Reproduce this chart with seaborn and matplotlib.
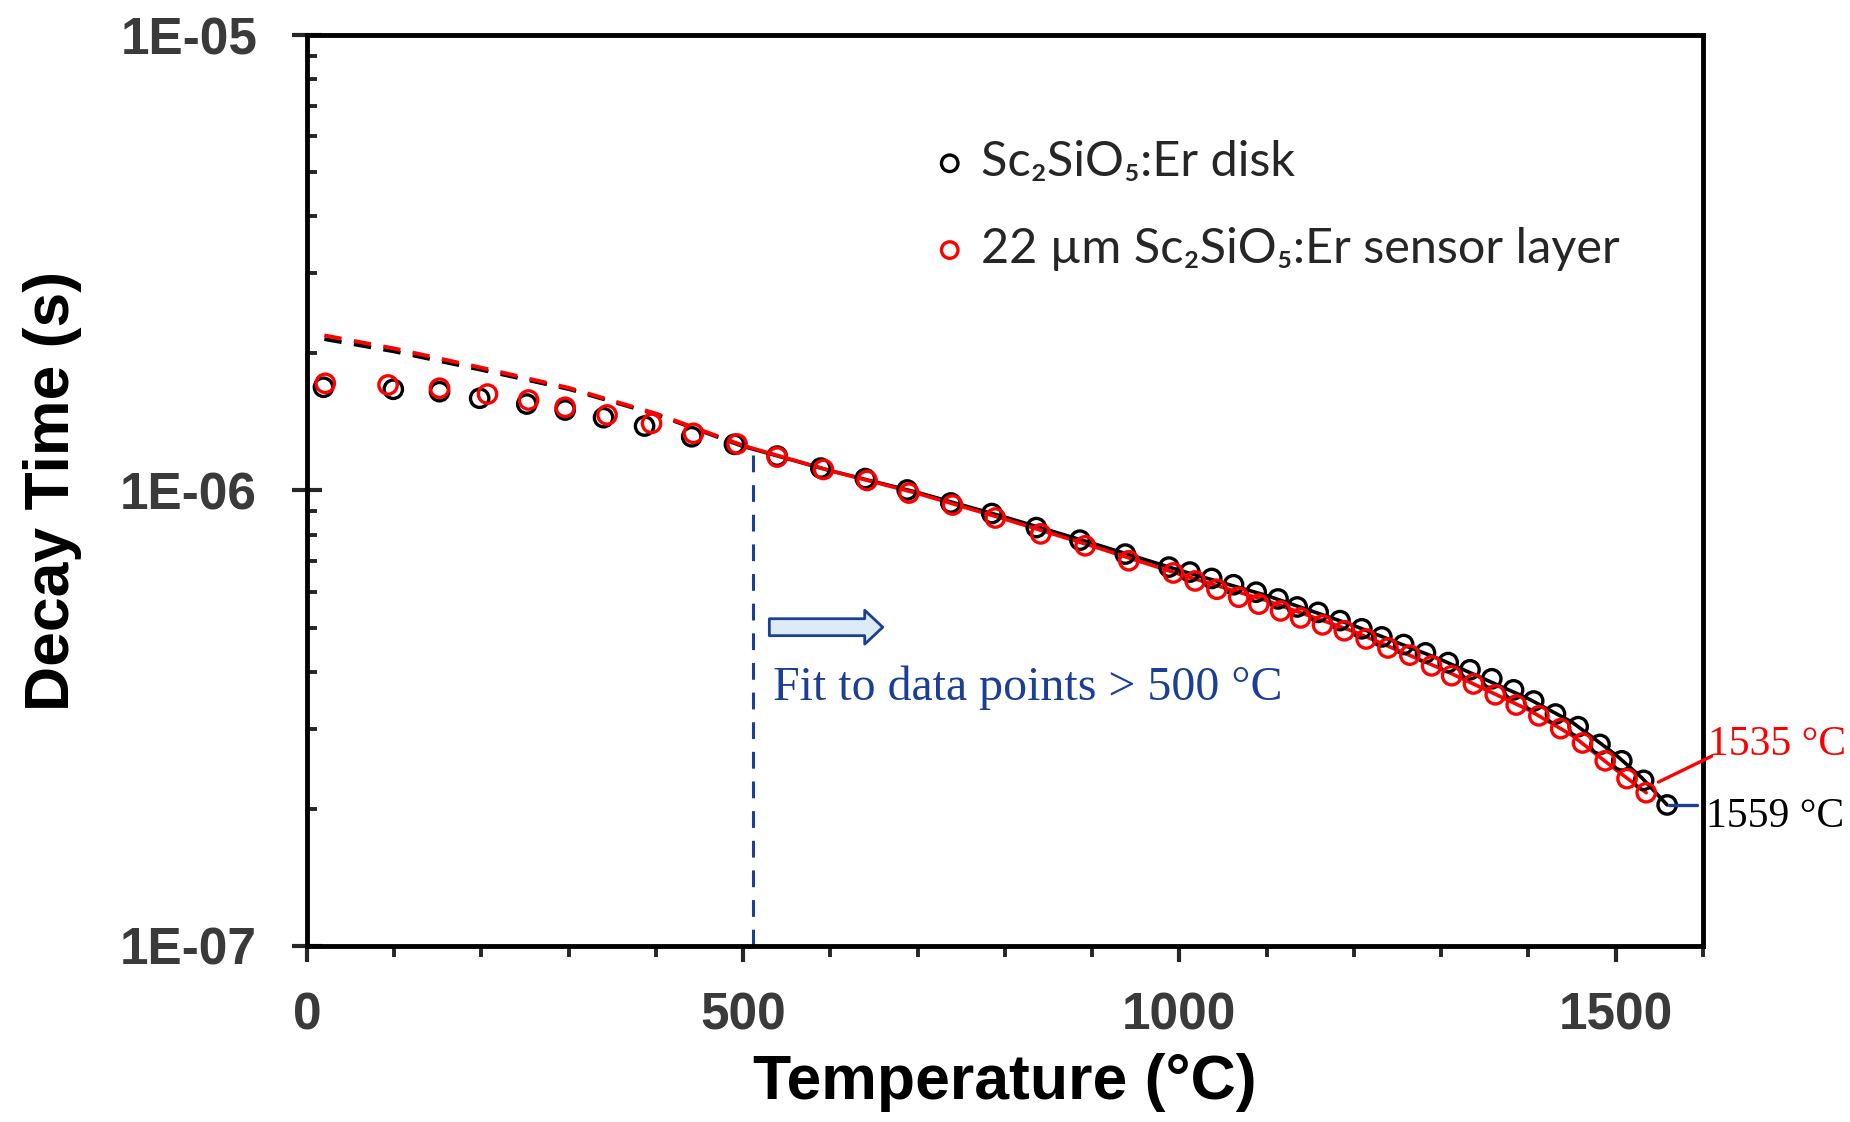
# Decay time vs temperature, Sc2SiO5:Er disk and sensor layer
import numpy as np
import pandas as pd
import matplotlib as mpl
mpl.use('Agg')
import matplotlib.pyplot as plt
import seaborn as sns
from matplotlib.ticker import LogLocator, MultipleLocator, FuncFormatter, NullFormatter

sns.set_style('ticks')
mpl.rcParams['font.family'] = ['Liberation Sans', 'DejaVu Sans']
mpl.rcParams['axes.unicode_minus'] = False

# ---- data (temperature in °C, decay time in µs) ----
disk_T = [19, 99, 152, 198, 252, 296, 340, 387, 441, 490, 539, 589, 640, 688, 738, 785, 836, 886,
          938, 988, 1012, 1037, 1062, 1088, 1113, 1135, 1159, 1184, 1209, 1232, 1257, 1282, 1308,
          1333, 1358, 1383, 1406, 1431, 1457, 1482, 1507, 1532, 1559]
disk_tau = [1.685, 1.668, 1.648, 1.594, 1.548, 1.502, 1.445, 1.385, 1.312, 1.263, 1.190, 1.120,
            1.062, 1.0025, 0.939, 0.890, 0.829, 0.778, 0.725, 0.679, 0.662, 0.641, 0.621, 0.598,
            0.578, 0.555, 0.540, 0.518, 0.497, 0.477, 0.459, 0.440, 0.419, 0.404, 0.386, 0.365,
            0.345, 0.323, 0.303, 0.277, 0.255, 0.231, 0.204]

layer_T = [21, 93, 152, 207, 254, 296, 344, 395, 443, 493, 539, 592, 642, 690, 740, 789, 841, 892,
           942, 993, 1018, 1043, 1068, 1091, 1116, 1139, 1164, 1189, 1214, 1239, 1264, 1289, 1312,
           1337, 1362, 1386, 1412, 1437, 1462, 1488, 1513, 1535]
layer_tau = [1.719, 1.705, 1.677, 1.628, 1.580, 1.523, 1.465, 1.404, 1.335, 1.265, 1.184, 1.112,
             1.052, 0.987, 0.929, 0.870, 0.803, 0.756, 0.701, 0.659, 0.633, 0.607, 0.583, 0.563,
             0.544, 0.525, 0.507, 0.492, 0.472, 0.451, 0.435, 0.412, 0.392, 0.376, 0.356, 0.338,
             0.320, 0.300, 0.279, 0.255, 0.233, 0.217]

# fitted curves
disk_fit_T = [20, 100, 200, 300, 400, 500, 600, 700, 800, 900, 1000, 1100, 1200, 1300, 1400,
              1450, 1500, 1530, 1559]
disk_fit_tau = [2.15, 2.02, 1.84, 1.67, 1.47, 1.25, 1.105, 0.99, 0.874, 0.766, 0.668, 0.588,
                0.505, 0.425, 0.349, 0.31, 0.263, 0.234, 0.204]
layer_fit_T = [20, 100, 200, 300, 400, 500, 600, 700, 800, 900, 1000, 1100, 1200, 1300, 1400,
               1450, 1500, 1535]
layer_fit_tau = [2.19, 2.05, 1.86, 1.68, 1.475, 1.255, 1.105, 0.985, 0.865, 0.755, 0.655, 0.573,
                 0.49, 0.406, 0.33, 0.29, 0.244, 0.217]

fit_cutoff = 500
cutoff_line_T = 511
cutoff_line_top = 1.22  # µs

disk_label = 'Sc₂SiO₅:Er disk'
layer_label = '22 µm Sc₂SiO₅:Er sensor layer'

BLUE = '#1B3F94'

def frame(T, tau):
    return pd.DataFrame({'T': T, 'tau': np.array(tau) * 1e-6})

disk = frame(disk_T, disk_tau)
layer = frame(layer_T, layer_tau)
disk_fit = frame(disk_fit_T, disk_fit_tau)
layer_fit = frame(layer_fit_T, layer_fit_tau)

fig = plt.figure(figsize=(18.5, 11.22), dpi=100)
ax = fig.add_axes([0.1659, 0.1569, 0.7546, 0.8119])
ax.set_yscale('log')

# fit curves: dashed below the cutoff, solid above
for fit, col in [(disk_fit, 'black'), (layer_fit, 'red')]:
    low = fit[fit['T'] <= fit_cutoff]
    high = fit[fit['T'] >= fit_cutoff]
    sns.lineplot(data=low, x='T', y='tau', ax=ax, color=col, linewidth=2.8,
                 linestyle=(0, (4.5, 3.2)), legend=False)
    sns.lineplot(data=high, x='T', y='tau', ax=ax, color=col, linewidth=2.6, legend=False)

# measured points (hollow circles)
sns.scatterplot(data=disk, x='T', y='tau', ax=ax, marker='o', s=175, facecolor='none',
                edgecolor='black', linewidth=2.4, label=disk_label, zorder=3)
sns.scatterplot(data=layer, x='T', y='tau', ax=ax, marker='o', s=175, facecolor='none',
                edgecolor='red', linewidth=2.4, label=layer_label, zorder=4)

# cutoff marker
ax.vlines(cutoff_line_T, 1e-7, cutoff_line_top * 1e-6, colors=BLUE, linewidth=2.2,
          linestyles=[(0, (5.5, 4.2))], zorder=2)
ax.annotate('', xy=(660, 5.01e-7), xytext=(530, 5.01e-7),
            arrowprops=dict(arrowstyle='simple,head_length=0.65,head_width=1.22,tail_width=0.61',
                            mutation_scale=20, fc='#DDEBF7', ec=BLUE, lw=2,
                            shrinkA=0, shrinkB=0))
ax.text(534, 3.47e-7, 'Fit to data points > 500 °C', family='Liberation Serif',
        fontsize=34.5, color=BLUE, va='baseline', ha='left')

# end-point labels with leader lines
ax.plot([1549, 1610], [2.29e-7, 2.61e-7], color='red', linewidth=2.4, clip_on=False, zorder=5)
ax.plot([1561, 1593], [2.04e-7, 2.04e-7], color=BLUE, linewidth=2.4, clip_on=False, zorder=5)
ax.text(1606, 2.63e-7, '1535 °C', family='Liberation Serif', fontsize=30, color='red',
        va='baseline', ha='left', clip_on=False)
ax.text(1604, 1.825e-7, '1559 °C', family='Liberation Serif', fontsize=30, color='black',
        va='baseline', ha='left', clip_on=False)

# axes
ax.set_xlim(0, 1600)
ax.set_ylim(1e-7, 1e-5)
ax.xaxis.set_major_locator(MultipleLocator(500))
ax.xaxis.set_minor_locator(MultipleLocator(100))
ax.yaxis.set_major_locator(LogLocator(base=10, numticks=10))
ax.yaxis.set_minor_locator(LogLocator(base=10, subs=np.arange(2, 10), numticks=20))
ax.yaxis.set_minor_formatter(NullFormatter())
ax.yaxis.set_major_formatter(FuncFormatter(lambda v, _: f'{v:.0E}'))

ax.tick_params(axis='y', which='major', direction='inout', length=21.6, width=3,
               pad=25, labelsize=37, labelcolor='#3a3a3a')
ax.tick_params(axis='y', which='minor', direction='in', length=7.5, width=2.8)
ax.tick_params(axis='x', which='major', direction='out', length=11.5, width=3,
               pad=21, labelsize=37, labelcolor='#3a3a3a')
ax.tick_params(axis='x', which='minor', direction='out', length=8, width=2.8)
for lab in ax.get_xticklabels() + ax.get_yticklabels():
    lab.set_fontweight('bold')

for sp in ax.spines.values():
    sp.set_linewidth(3.5)
    sp.set_color('black')

ax.set_xlabel('Temperature (°C)', fontsize=45, fontweight='bold', color='black')
ax.set_ylabel('Decay Time (s)', fontsize=45, fontweight='bold', color='black')
ax.xaxis.set_label_coords(0.5, -0.118)
ax.yaxis.set_label_coords(-0.161, 0.5)

leg = ax.legend(loc='center left', bbox_to_anchor=(0.4535, 0.8129), frameon=False,
                borderaxespad=0, borderpad=0, handlelength=0.4, handletextpad=0.45,
                labelspacing=0.88, markerscale=0.9,
                prop=dict(family=['Lato', 'Noto Sans', 'DejaVu Sans'], size=35))

fig.savefig('out.png', dpi=100)
